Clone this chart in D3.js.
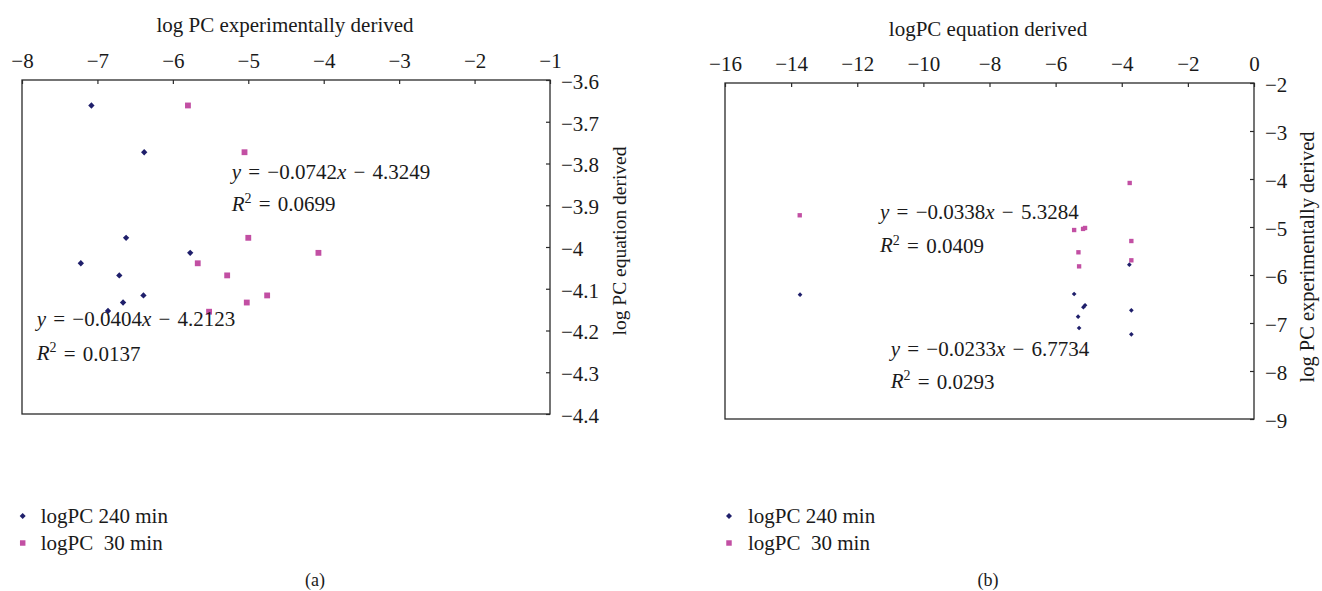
<!DOCTYPE html>
<html><head><meta charset="utf-8">
<script src="https://cdn.jsdelivr.net/npm/d3@7"></script>
<style>
body{margin:0;background:#fff}
svg text{font-family:"Liberation Serif","Times New Roman",serif;fill:#1a1a1a;font-size:21px}
</style>
</head><body><svg id="c" width="1322" height="591"></svg>
<script>
// ---------- DATA ----------
const seriesNames = ["logPC 240 min", "logPC  30 min"];
const panelLabels = ["(a)", "(b)"];

// Panel (a)
const aXTitle = "log PC experimentally derived";
const aYTitle = "log PC equation derived";
const aXTicks = [-8, -7, -6, -5, -4, -3, -2, -1];
const aYTicks = [-3.6, -3.7, -3.8, -3.9, -4, -4.1, -4.2, -4.3, -4.4];
const a240X = [-7.08, -6.38, -6.62, -5.77, -7.22, -6.71, -6.39, -6.66, -6.86];
const a240Y = [-3.661, -3.773, -3.978, -4.014, -4.039, -4.068, -4.116, -4.133, -4.153];
const a30X  = [-5.80, -5.05, -5.00, -4.07, -5.67, -5.28, -4.75, -5.02, -5.52];
const a30Y  = [-3.661, -3.773, -3.978, -4.014, -4.039, -4.068, -4.116, -4.133, -4.155];
const aSlopes = [-0.0404, -0.0742];
const aIntercepts = [-4.2123, -4.3249];
const aR2 = [0.0137, 0.0699];

// Panel (b)
const bXTitle = "logPC equation derived";
const bYTitle = "log PC experimentally derived";
const bXTicks = [-16, -14, -12, -10, -8, -6, -4, -2, 0];
const bYTicks = [-2, -3, -4, -5, -6, -7, -8, -9];
const b240X = [-13.73, -3.77, -5.44, -5.16, -5.11, -5.32, -5.29, -3.71, -3.71];
const b240Y = [-6.41, -5.785, -6.396, -6.67, -6.63, -6.869, -7.104, -6.736, -7.235];
const b30X  = [-13.74, -3.76, -5.44, -5.17, -5.11, -3.71, -5.31, -3.71, -5.29];
const b30Y  = [-4.756, -4.083, -5.063, -5.04, -5.02, -5.292, -5.527, -5.694, -5.82];
const bSlopes = [-0.0233, -0.0338];
const bIntercepts = [-6.7734, -5.3284];
const bR2 = [0.0293, 0.0409];

// ---------- LAYOUT / STYLE ----------
const colors = ["#1f1f6b", "#c24fa3"];
const svg = d3.select("#c");
const fmt = d => String(d).replace("-", "\u2212");

const panels = [
  {box:[22,550,80,414], xDom:[-8,-1], yDom:[-3.6,-4.4], xTicks:aXTicks, yTicks:aYTicks,
   xTitle:aXTitle, yTitle:aYTitle, titlePos:[285,32], yTitlePos:[620,241], yTitleSize:19.5,
   s:[[a240X,a240Y],[a30X,a30Y]], slopes:aSlopes, ints:aIntercepts, r2:aR2,
   eqPos:[[36.7,318.3,352.5],[231.7,171.7,203.3]], mk:[20,34],
   legend:[22.7,40.7,516,543], label:[315,580], lab:panelLabels[0]},
  {box:[725,1254,83,419], xDom:[-16,0], yDom:[-2,-9], xTicks:bXTicks, yTicks:bYTicks,
   xTitle:bXTitle, yTitle:bYTitle, titlePos:[988,36], yTitlePos:[1308,257], yTitleSize:20.5,
   s:[[b240X,b240Y],[b30X,b30Y]], slopes:bSlopes, ints:bIntercepts, r2:bR2,
   eqPos:[[890.7,348.3,380.7],[880,211.7,245]], mk:[11,19],
   legend:[729,748,516,543], label:[988,580], lab:panelLabels[1]}
];

panels.forEach(p=>{
  const [x0,x1,y0,y1] = p.box;
  const x = d3.scaleLinear().domain(p.xDom).range([x0,x1]);
  const y = d3.scaleLinear().domain(p.yDom).range([y0,y1]);
  const g = svg.append("g");

  // frame
  g.append("rect").attr("x",x0).attr("y",y0).attr("width",x1-x0).attr("height",y1-y0)
    .attr("fill","none").attr("stroke","#2a2a2a").attr("stroke-width",1.3);

  // top axis
  const ax = g.append("g").attr("transform",`translate(0,${y0})`)
    .call(d3.axisTop(x).tickValues(p.xTicks).tickFormat(fmt).tickSizeInner(-4).tickSizeOuter(0).tickPadding(12));
  ax.select(".domain").remove();
  ax.selectAll(".tick line").attr("stroke","#2a2a2a").attr("stroke-width",1.2);
  ax.selectAll(".tick text").attr("font-size",null).attr("font-family",null).attr("fill","#1a1a1a");

  // right axis
  const ay = g.append("g").attr("transform",`translate(${x1},0)`)
    .call(d3.axisRight(y).tickValues(p.yTicks).tickFormat(fmt).tickSizeInner(-4).tickSizeOuter(0).tickPadding(11));
  ay.select(".domain").remove();
  ay.selectAll(".tick line").attr("stroke","#2a2a2a").attr("stroke-width",1.2);
  ay.selectAll(".tick text").attr("font-size",null).attr("font-family",null).attr("fill","#1a1a1a").attr("dy","0.4em");

  // titles
  g.append("text").attr("x",p.titlePos[0]).attr("y",p.titlePos[1]).attr("text-anchor","middle").text(p.xTitle);
  g.append("text").attr("transform",`translate(${p.yTitlePos[0]},${p.yTitlePos[1]}) rotate(-90)`)
    .attr("text-anchor","middle").attr("dy","0.3em").style("font-size",p.yTitleSize+"px").text(p.yTitle);

  // points
  p.s.forEach((ser,i)=>{
    const pts = ser[0].map((v,k)=>[v, ser[1][k]]);
    g.selectAll(null).data(pts).enter().append("path")
      .attr("d", d3.symbol(d3.symbolSquare, p.mk[i])())
      .attr("transform", d=>`translate(${x(d[0])},${y(d[1])})${i===0?" rotate(45)":""}`)
      .attr("fill", colors[i]);
  });

  // equations
  p.eqPos.forEach((pos,i)=>{
    const t = g.append("text").attr("x",pos[0]).attr("y",pos[1]).attr("dy","0.35em")
      .style("word-spacing","2px").style("white-space","pre");
    t.append("tspan").attr("font-style","italic").text("y");
    t.append("tspan").text(" = " + fmt(p.slopes[i].toFixed(4)));
    t.append("tspan").attr("font-style","italic").text("x");
    t.append("tspan").text(" \u2212 " + Math.abs(p.ints[i]).toFixed(4));
    const r = g.append("text").attr("x",pos[0]).attr("y",pos[2]).attr("dy","0.35em")
      .style("word-spacing","2px").style("white-space","pre");
    r.append("tspan").attr("font-style","italic").text("R");
    r.append("tspan").style("font-size","14px").attr("dy","-0.55em").text("2");
    r.append("tspan").attr("dy","0.4em").text(" = " + p.r2[i].toFixed(4));
  });

  // legend
  const [mx, tx, ly0, ly1] = p.legend;
  [ly0, ly1].forEach((ly,i)=>{
    svg.append("path").attr("d", d3.symbol(d3.symbolSquare, i===0?18:30)())
      .attr("transform",`translate(${mx},${ly})${i===0?" rotate(45)":""}`).attr("fill",colors[i]);
    svg.append("text").attr("x",tx).attr("y",ly).attr("dy","0.35em").style("white-space","pre").text(seriesNames[i]);
  });
  svg.append("text").attr("x",p.label[0]).attr("y",p.label[1]).attr("dy","0.35em")
    .attr("text-anchor","middle").style("font-size","18px").text(p.lab);
});
</script>
</body></html>
